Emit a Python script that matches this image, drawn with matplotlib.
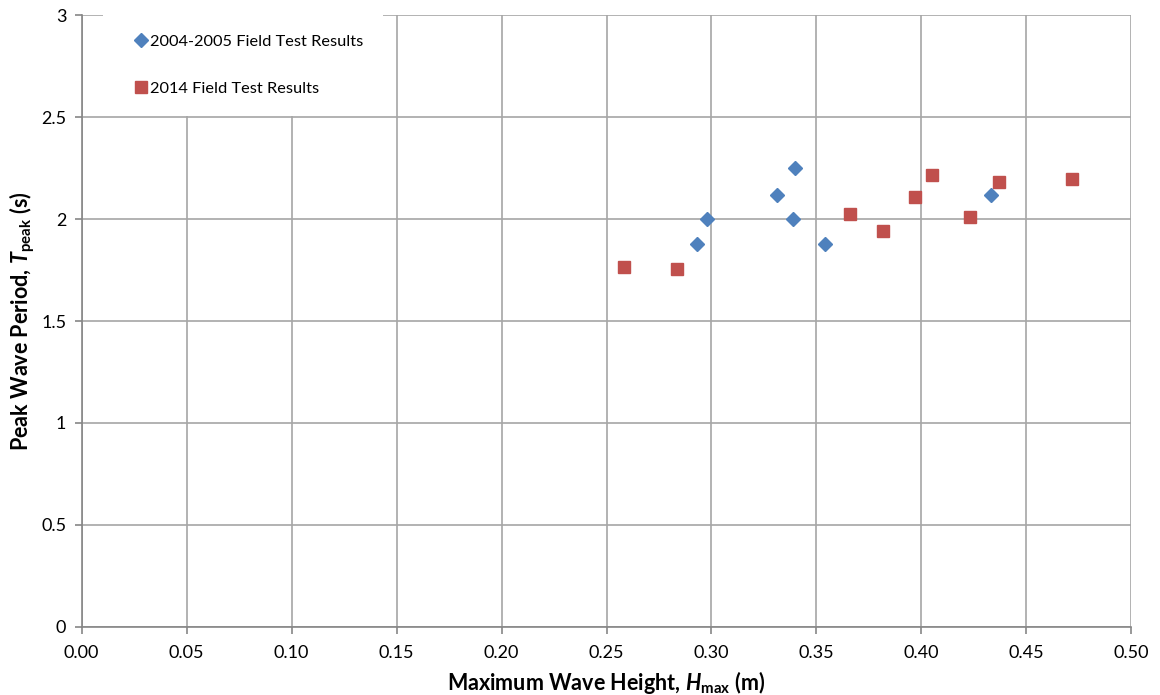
import matplotlib
matplotlib.use('Agg')
import matplotlib.pyplot as plt
from matplotlib.patches import Rectangle

# 2004-2005 field test results
hmax_0405 = [0.293, 0.298, 0.331, 0.339, 0.340, 0.354, 0.433]
tpeak_0405 = [1.88, 2.00, 2.12, 2.00, 2.25, 1.88, 2.12]

# 2014 field test results
hmax_2014 = [0.2585, 0.2836, 0.366, 0.3815, 0.397, 0.405, 0.423, 0.4367, 0.4718]
tpeak_2014 = [1.767, 1.755, 2.025, 1.943, 2.11, 2.218, 2.011, 2.185, 2.198]

xticks = [0.00, 0.05, 0.10, 0.15, 0.20, 0.25, 0.30, 0.35, 0.40, 0.45, 0.50]
yticks = [0, 0.5, 1, 1.5, 2, 2.5, 3]
ytick_labels = ['0', '0.5', '1', '1.5', '2', '2.5', '3']

plt.rcParams['font.family'] = ['Lato', 'DejaVu Sans']
plt.rcParams['mathtext.fontset'] = 'custom'
plt.rcParams['mathtext.it'] = 'Lato:bold:italic'
plt.rcParams['mathtext.rm'] = 'Lato:bold'
plt.rcParams['mathtext.bf'] = 'Lato:bold'

fig = plt.figure(figsize=(11.6, 6.95), dpi=100)
ax = fig.add_axes([0.0703, 0.0983, 0.9051, 0.8794])

grid_col = '#a6a6a6'
ax.set_xlim(0, 0.5)
ax.set_ylim(0, 3)
ax.set_xticks(xticks)
ax.set_xticklabels(['%.2f' % v for v in xticks])
ax.set_yticks(yticks)
ax.set_yticklabels(ytick_labels)
ax.grid(True, color=grid_col, linewidth=1.2)
ax.set_axisbelow(True)
for side in ['top', 'right']:
    ax.spines[side].set_visible(False)
for side in ['left', 'bottom']:
    ax.spines[side].set_color('#868686')
    ax.spines[side].set_linewidth(1.2)
ax.tick_params(axis='both', colors='#868686', labelcolor='black',
               labelsize=13, length=5, width=1.2, direction='out')
ax.tick_params(axis='x', pad=8)
ax.tick_params(axis='y', pad=6)

ax.plot(hmax_0405, tpeak_0405, linestyle='none', marker='D', markersize=7.5,
        color='#4F81BD', label='2004-2005 Field Test Results', zorder=3)
ax.plot(hmax_2014, tpeak_2014, linestyle='none', marker='s', markersize=9,
        color='#C0504D', label='2014 Field Test Results', zorder=3)

# white legend area hiding the grid
ax.add_patch(Rectangle((0.0205, 0.836), 0.267, 0.168, transform=ax.transAxes,
                       facecolor='white', edgecolor='none', zorder=2, clip_on=False))

leg = ax.legend(loc='upper left', bbox_to_anchor=(0.041, 0.988), frameon=False,
                fontsize=11.8, labelspacing=2.0, handlelength=0.6,
                handletextpad=0.25, borderpad=0.2)

ax.set_xlabel(r'Maximum Wave Height, $H_{\mathrm{max}}$ (m)', fontsize=15.5,
              fontweight='bold', labelpad=6)
ax.set_ylabel(r'Peak Wave Period, $T_{\mathrm{peak}}$ (s)', fontsize=15.5,
              fontweight='bold', labelpad=3)

fig.savefig('out.png', dpi=100)
